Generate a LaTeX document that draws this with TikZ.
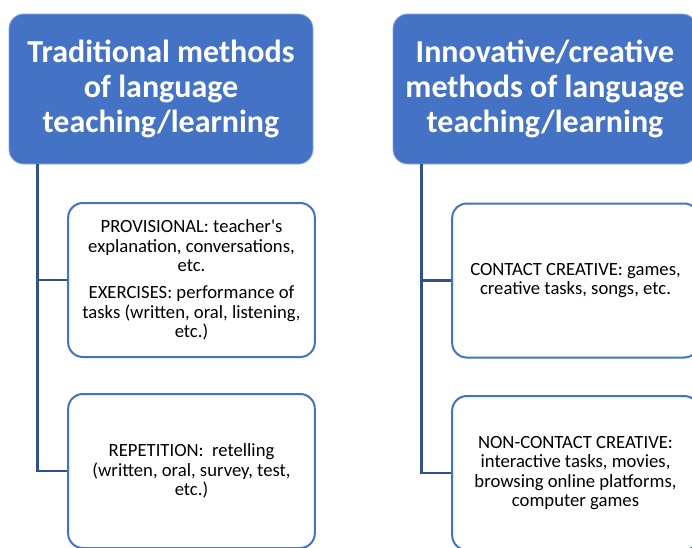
\documentclass[tikz,border=0pt]{standalone}
\usepackage{fontspec}
\setmainfont{Carlito}
\definecolor{hdblue}{HTML}{4472C4}
\definecolor{lnblue}{HTML}{2F528F}
\begin{document}
\begin{tikzpicture}[x=0.75pt,y=-0.75pt,
  head/.style={draw=hdblue!60!white, line width=0.6pt, fill=hdblue, rounded corners=11pt,
    text=white, font=\fontsize{24}{26.4}\selectfont\bfseries, align=center,
    minimum width=228pt, minimum height=112.5pt, inner sep=0pt},
  child/.style={draw=hdblue, line width=1.5pt, fill=white, rounded corners=11pt,
    text=black, font=\fontsize{14}{14.7}\selectfont, align=center,
    minimum width=185pt, minimum height=115.5pt, inner sep=0pt},
  conn/.style={draw=lnblue, line width=1.8pt}]
\useasboundingbox (0,0) rectangle (692,547);
\clip (0,0) rectangle (692,547);
\fill[white] (0,0) rectangle (692,547);
% headers
\node[head] (h1) at (161,89) {Traditional methods\\of language\\teaching/learning};
\node[head] (h2) at (545,89) {Innovative/creative\\methods of language\\teaching/learning};
% left children
\node[child] (a1) at (191.5,280) {PROVISIONAL: teacher\textquotesingle s\\explanation, conversations,\\etc.\\[5.5pt]EXERCISES: performance of\\tasks (written, oral, listening,\\etc.)};
\node[child] (a2) at (191.5,471) {REPETITION:\ \ retelling\\(written, oral, survey, test,\\etc.)};
% right children
\node[child] (b1) at (575.5,280.5) {CONTACT CREATIVE: games,\\creative tasks, songs, etc.};
\node[child] (b2) at (575.5,473) {NON-CONTACT CREATIVE:\\interactive tasks, movies,\\browsing online platforms,\\computer games};
% connectors
\coordinate (ta) at ([xshift=21.75pt]h1.south west);
\coordinate (tb) at ([xshift=21.75pt]h2.south west);
\draw[conn] (ta) |- (a2.west);
\draw[conn] (ta |- a1.west) -- (a1.west);
\draw[conn] (tb) |- (b2.west);
\draw[conn] (tb |- b1.west) -- (b1.west);
\end{tikzpicture}
\end{document}
